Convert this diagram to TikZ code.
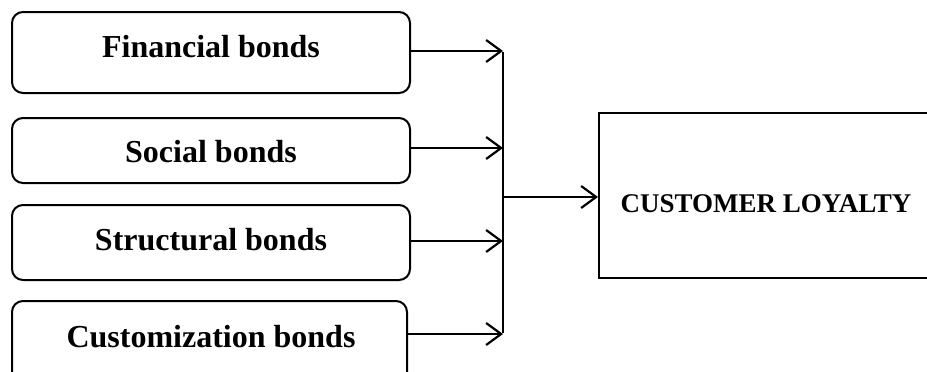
\documentclass[tikz,border=0pt]{standalone}
\usepackage{fontspec}
\setmainfont{Liberation Serif}
\usetikzlibrary{arrows.meta}
\begin{document}
\begin{tikzpicture}[x=1pt,y=-1pt,
  bondbox/.style={draw,line width=2pt,rounded corners=11pt,inner sep=0pt},
  bondtext/.style={anchor=base,inner sep=0pt,font=\fontsize{32}{36}\selectfont\bfseries},
  conn/.style={line width=2.2pt,-{Straight Barb[length=15pt,width=22pt,line width=2.2pt]}},
  line/.style={line width=2.2pt}]
\useasboundingbox (0,0) rectangle (927,372);
\clip (0,0) rectangle (927,372);
% boxes
\node[bondbox,minimum width=398pt,minimum height=81pt] (fin) at (211,52.5) {};
\node[bondbox,minimum width=398pt,minimum height=65pt] (soc) at (211,150.5) {};
\node[bondbox,minimum width=398pt,minimum height=75pt] (str) at (211,242.5) {};
\node[bondbox,minimum width=395pt,minimum height=90pt] (cus) at (209.5,346) {};
\node[draw,line width=2pt,inner sep=0pt,minimum width=334pt,minimum height=165pt] (loy) at (766,195.5) {};
% texts
\node[bondtext] (fint) at (211,57) {Financial bonds};
\node[bondtext] (soct) at (211,162) {Social bonds};
\node[bondtext] (strt) at (211,250) {Structural bonds};
\node[bondtext] (cust) at (211,347) {Customization bonds};
\node[anchor=base,inner sep=0pt,font=\fontsize{27}{30}\selectfont\bfseries] (loyt) at (766,212) {CUSTOMER LOYALTY};
% junction points
\coordinate (j1) at (503,51);
\coordinate (j2) at (503,148);
\coordinate (j3) at (503,241);
\coordinate (j4) at (503,334);
\coordinate (jm) at (503,197);
\draw[conn] (fin.east |- j1) -- (j1);
\draw[conn] (soc.east |- j2) -- (j2);
\draw[conn] (str.east |- j3) -- (j3);
\draw[conn] (cus.east |- j4) -- (j4);
\draw[line] ([yshift=-1.1pt]j1) -- ([yshift=1.1pt]j4);
\draw[conn] (jm) -- (loy.west |- jm);
\end{tikzpicture}
\end{document}
